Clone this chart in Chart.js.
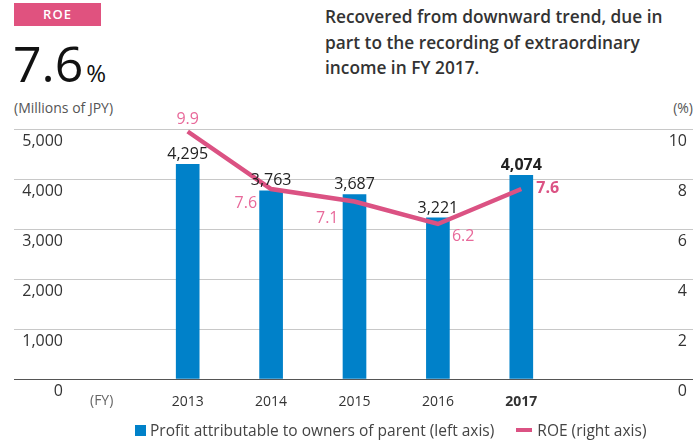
<!DOCTYPE html>
<html>
<head>
<meta charset="utf-8">
<script src="https://cdn.jsdelivr.net/npm/chart.js@4/dist/chart.umd.min.js"></script>
<style>
  html, body { margin: 0; padding: 0; background: #fff; }
  body { width: 693px; height: 444px; overflow: hidden; font-family: 'Open Sans', sans-serif; color: #333; }
  #wrap { position: relative; width: 693px; height: 444px; }
  #roeChart { position: absolute; left: 0; top: 0; }
  .badge { position: absolute; left: 14px; top: 3px; width: 87px; height: 23px; line-height: 23px;
           background: #e0527f; color: #fff; font-size: 13px; font-weight: 600; text-align: center; letter-spacing: 1px; }
  .big { position: absolute; left: 13px; top: 38px; font-size: 50px; line-height: 50px; color: #111; }
  .big span { font-size: 24px; margin-left: 3px; }
  .note { position: absolute; left: 325px; top: 4px; font-size: 17.3px; font-weight: 600; line-height: 25.5px; color: #333; }
  .unit { position: absolute; top: 98px; font-size: 14px; line-height: 20px; color: #555; }
  .fy { position: absolute; left: 90px; top: 390px; font-size: 14px; line-height: 20px; color: #666; }
  .legend { position: absolute; left: 135px; top: 420px; font-size: 15.5px; line-height: 20px; color: #444; display: flex; align-items: center; }
  .legend .sq { width: 11px; height: 11px; background: #0081c9; margin-right: 4px; }
  .legend .ln { width: 16px; height: 4px; background: #db5283; margin: 0 5px 0 22px; }
</style>
</head>
<body>
<div id="wrap">
  <div class="badge">ROE</div>
  <div class="big">7.6<span>%</span></div>
  <div class="note">Recovered from downward trend, due in<br>part to the recording of extraordinary<br>income in FY 2017.</div>
  <div class="unit" style="left:14px">(Millions of JPY)</div>
  <div class="unit" style="right:0">(%)</div>
  <canvas id="roeChart" width="693" height="444"></canvas>
  <div class="fy">(FY)</div>
  <div class="legend">
    <div class="sq"></div><span>Profit attributable to owners of parent (left axis)</span>
    <div class="ln"></div><span>ROE (right axis)</span>
  </div>
</div>
<script>
// ─── Data ─────────────────────────────────────
const years = ['2013', '2014', '2015', '2016', '2017'];
const profit = [4295, 3763, 3687, 3221, 4074];   // millions of JPY
const roe = [9.9, 7.6, 7.1, 6.2, 7.6];            // %
const profitTicks = [0, 1000, 2000, 3000, 4000, 5000];
const roeTicks = [0, 2, 4, 6, 8, 10];

// where each ROE label sits relative to its point: [dx, dy, align]
const roeLabelPos = [
  [0, -12, 'center'],
  [-14, 14, 'right'],
  [-16, 17, 'right'],
  [14, 12, 'left'],
  [15, -1, 'left'],
];

const BLUE = '#0081c9';
const PINK = '#db5283';
const PINK_TEXT = '#e8699a';
const FONT = "'Open Sans', sans-serif";

const gridColor = ctx => (ctx.tick && ctx.tick.value === 0 ? '#555' : '#c8c8c8');
const last = years.length - 1;

// tick labels sit just under each grid line, plus value labels on the marks
const labelsPlugin = {
  id: 'roeLabels',
  afterDraw(chart) {
    const { ctx } = chart;
    const y = chart.scales.y, y1 = chart.scales.y1;
    ctx.save();
    ctx.textBaseline = 'middle';
    ctx.fillStyle = '#333';
    ctx.font = `16px ${FONT}`;
    ctx.textAlign = 'right';
    y.ticks.forEach(t => ctx.fillText(t.value.toLocaleString('en-US'), 63, y.getPixelForValue(t.value) + 12));
    y1.ticks.forEach(t => ctx.fillText(String(t.value), 687, y1.getPixelForValue(t.value) + 12));

    // bar values
    ctx.textAlign = 'center';
    chart.getDatasetMeta(0).data.forEach((bar, i) => {
      ctx.font = `${i === last ? 'bold ' : ''}16px ${FONT}`;
      ctx.fillStyle = '#222';
      ctx.fillText(profit[i].toLocaleString('en-US'), bar.x, bar.y - 10);
    });

    // ROE values
    chart.getDatasetMeta(1).data.forEach((pt, i) => {
      const [dx, dy, align] = roeLabelPos[i];
      ctx.font = `${i === last ? 'bold ' : ''}16px ${FONT}`;
      ctx.fillStyle = i === last ? PINK : PINK_TEXT;
      ctx.textAlign = align;
      ctx.fillText(roe[i].toFixed(1), pt.x + dx, pt.y + dy);
    });
    ctx.restore();
  },
};

new Chart(document.getElementById('roeChart'), {
  data: {
    labels: years,
    datasets: [
      {
        type: 'bar',
        label: 'Profit attributable to owners of parent (left axis)',
        data: profit,
        yAxisID: 'y',
        backgroundColor: BLUE,
        barThickness: 23,
        order: 2,
      },
      {
        type: 'line',
        label: 'ROE (right axis)',
        data: roe,
        yAxisID: 'y1',
        borderColor: PINK,
        borderWidth: 4.5,
        pointRadius: 0,
        tension: 0,
        order: 1,
      },
    ],
  },
  options: {
    responsive: false,
    animation: false,
    layout: { padding: { top: 129, left: 14, right: 0, bottom: 32 } },
    plugins: { legend: { display: false }, tooltip: { enabled: false } },
    scales: {
      x: {
        offset: true,
        grid: { display: false, drawTicks: false },
        border: { display: false },
        afterFit(scale) { scale.height = 33; },
        ticks: {
          padding: 15,
          color: '#333',
          font: ctx => ({ family: FONT, size: 14, weight: ctx.index === last ? 'bold' : 'normal' }),
        },
      },
      y: {
        position: 'left',
        min: 0, max: 5000,
        afterBuildTicks(scale) { scale.ticks = profitTicks.map(v => ({ value: v })); },
        ticks: { display: false },
        border: { display: false },
        grid: { color: gridColor, tickLength: 132, drawTicks: true },
      },
      y1: {
        position: 'right',
        min: 0, max: 10,
        afterBuildTicks(scale) { scale.ticks = roeTicks.map(v => ({ value: v })); },
        ticks: { display: false },
        border: { display: false },
        grid: { color: gridColor, tickLength: 130, drawTicks: true, drawOnChartArea: false },
      },
    },
  },
  plugins: [labelsPlugin],
});
</script>
</body>
</html>
